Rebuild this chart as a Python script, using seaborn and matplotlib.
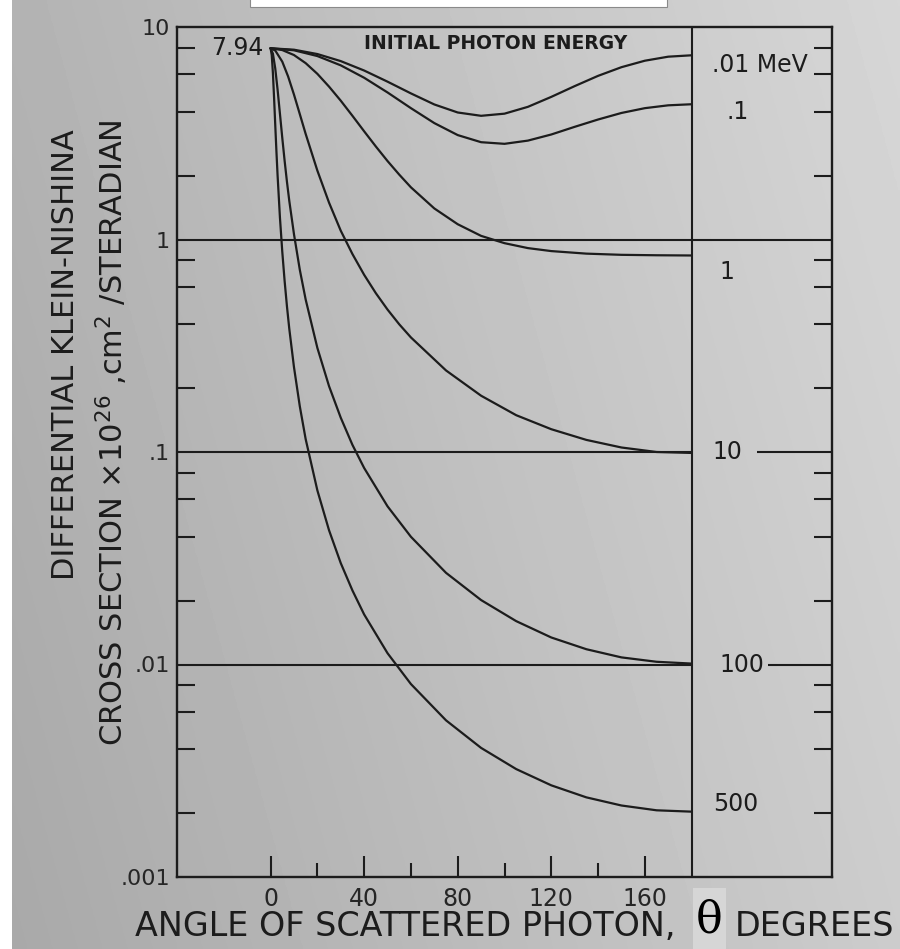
import numpy as np
import pandas as pd
import matplotlib
matplotlib.use("Agg")
import matplotlib.pyplot as plt
import seaborn as sns
from matplotlib.ticker import LogLocator, NullFormatter
from matplotlib.patches import Rectangle

# ---------------- data ----------------
energy_labels = [".01 MeV", ".1", "1", "10", "100", "500"]

angle_001 = [0, 10, 20, 30, 40, 50, 60, 70, 80, 90, 100, 110, 120, 130, 140, 150, 160, 170, 180]
sigma_001 = [7.94, 7.82, 7.46, 6.91, 6.24, 5.53, 4.87, 4.32, 3.96, 3.82, 3.91, 4.21, 4.69, 5.27,
             5.89, 6.47, 6.94, 7.25, 7.36]

angle_01 = [0, 10, 20, 30, 40, 50, 60, 70, 80, 90, 100, 110, 120, 130, 140, 150, 160, 170, 180]
sigma_01 = [7.94, 7.77, 7.30, 6.60, 5.77, 4.92, 4.15, 3.53, 3.10, 2.87, 2.82, 2.92, 3.12, 3.39,
            3.67, 3.94, 4.15, 4.28, 4.33]

angle_1 = [0, 5, 10, 15, 20, 25, 30, 35, 40, 45, 50, 55, 60, 70, 80, 90, 100, 110, 120, 135, 150, 165, 180]
sigma_1 = [7.94, 7.79, 7.38, 6.76, 6.02, 5.24, 4.50, 3.82, 3.23, 2.74, 2.34, 2.02, 1.76, 1.40, 1.18,
           1.04, 0.961, 0.911, 0.882, 0.858, 0.847, 0.843, 0.841]

angle_10 = [0, 2, 5, 7.5, 10, 12.5, 15, 20, 25, 30, 35, 40, 45, 50, 55, 60, 75, 90, 105, 120, 135,
            150, 165, 180]
sigma_10 = [7.94, 7.75, 6.87, 5.85, 4.81, 3.89, 3.14, 2.11, 1.49, 1.10, 0.854, 0.682, 0.559, 0.468,
            0.399, 0.346, 0.242, 0.184, 0.149, 0.128, 0.114, 0.105, 0.100, 0.099]

angle_100 = [0, 1, 2, 3, 4, 5, 6, 7, 8, 10, 12.5, 15, 20, 25, 30, 35, 40, 50, 60, 75, 90, 105, 120,
             135, 150, 165, 180]
sigma_100 = [7.94, 7.49, 6.38, 5.07, 3.91, 3.01, 2.35, 1.87, 1.52, 1.06, 0.720, 0.522, 0.309, 0.204,
             0.145, 0.108, 0.0841, 0.0555, 0.0399, 0.0270, 0.0201, 0.0160, 0.0134, 0.0118, 0.0108,
             0.0103, 0.0101]

angle_500 = [0, 0.5, 1, 1.5, 2, 2.5, 3, 4, 5, 6, 7, 8, 10, 12.5, 15, 20, 25, 30, 35, 40, 50, 60, 75,
             90, 105, 120, 135, 150, 165, 180]
sigma_500 = [7.94, 7.38, 6.07, 4.64, 3.46, 2.60, 2.00, 1.27, 0.877, 0.639, 0.485, 0.380, 0.251,
             0.164, 0.115, 0.066, 0.0428, 0.030, 0.0223, 0.0172, 0.0113, 0.00809, 0.00546, 0.00405,
             0.00322, 0.00270, 0.00237, 0.00217, 0.00206, 0.00203]

# curve-end label positions (angle, value) in the right-hand panel
label_pos = [(188.5, 6.6), (195.0, 4.0), (192.0, 0.70), (189.0, 0.1), (192.0, 0.01), (189.0, 0.0022)]

x_ticks = [0, 40, 80, 120, 160]
x_minor = [20, 60, 100, 140]
y_ticks = [0.001, 0.01, 0.1, 1, 10]
y_ticklabels = [".001", ".01", ".1", "1", "10"]

# ---------------- build table ----------------
curves = [(angle_001, sigma_001), (angle_01, sigma_01), (angle_1, sigma_1),
          (angle_10, sigma_10), (angle_100, sigma_100), (angle_500, sigma_500)]
frames = []
for lab, (a, s) in zip(energy_labels, curves):
    frames.append(pd.DataFrame({"angle": a, "sigma": s, "energy": lab}))
df = pd.concat(frames, ignore_index=True)

# ---------------- style ----------------
sns.set_style("ticks")
plt.rcParams["font.family"] = ["DejaVu Sans"]
ink = "#1c1c1c"

W, H = 900, 949
fig = plt.figure(figsize=(W / 100, H / 100), dpi=100)
fig.patch.set_facecolor("#c4c4c4")

# scanned-paper background (gradient)
bg = fig.add_axes([0, 0, 1, 1], zorder=-10)
gx = np.linspace(0.0, 1.0, 300)
gy = np.linspace(0.0, 1.0, 300)
GX, GY = np.meshgrid(gx, gy)
grad = 0.66 + 0.14 * GX + 0.04 * (1 - GY)
bg.imshow(grad, cmap="gray", vmin=0, vmax=1, aspect="auto", extent=[0, 1, 0, 1], origin="upper")
bg.set_axis_off()

# paper artefacts
fig.patches.append(Rectangle((0, 0), 12 / W, 1, transform=fig.transFigure, fc="white", ec="none", zorder=-5))
fig.patches.append(Rectangle((250 / W, 1 - 7 / H), 417 / W, 0.02, transform=fig.transFigure,
                             fc="white", ec="#8a8a8a", lw=0.8, zorder=-5))
fig.patches.append(Rectangle((693 / W, 0), 33 / W, (H - 888) / H, transform=fig.transFigure,
                             fc="#d6d6d6", ec="none", zorder=-5))

left, right, top, bottom = 177, 832, 27, 877
ax = fig.add_axes([left / W, 1 - bottom / H, (right - left) / W, (bottom - top) / H])
ax.set_facecolor((0, 0, 0, 0))

sns.lineplot(data=df, x="angle", y="sigma", hue="energy", palette=[ink] * len(energy_labels),
             estimator=None, sort=True, legend=False, linewidth=1.6, ax=ax)

ax.set_yscale("log")
ax.set_xlim(-40, 240)
ax.set_ylim(0.001, 10)

# reference lines and the 180-degree panel divider
lw = 1.5
ax.axhline(1, color=ink, lw=lw)
ax.hlines([0.1, 0.01], -40, 180, color=ink, lw=lw)
ax.axvline(180, color=ink, lw=lw)
ax.hlines(0.1, 208, 240, color=ink, lw=lw)
ax.hlines(0.01, 212.5, 240, color=ink, lw=lw)

for sp in ax.spines.values():
    sp.set_visible(True)
    sp.set_color(ink)
    sp.set_linewidth(1.7)

# ticks
ax.set_xticks(x_ticks)
ax.set_xticklabels([str(v) for v in x_ticks])
ax.set_xticks(x_minor, minor=True)
ax.tick_params(axis="x", which="major", direction="in", length=15, width=1.5, color=ink,
               labelsize=17, pad=7, bottom=True, top=False)
ax.tick_params(axis="x", which="minor", direction="in", length=10, width=1.5, color=ink,
               bottom=True, top=False)

ax.set_yticks(y_ticks)
ax.set_yticklabels(y_ticklabels)
ax.yaxis.set_minor_locator(LogLocator(base=10, subs=(2, 4, 6, 8), numticks=30))
ax.yaxis.set_minor_formatter(NullFormatter())
ax.tick_params(axis="y", which="major", length=0, labelsize=16, pad=5, left=True, right=False)
ax.tick_params(axis="y", which="minor", direction="in", length=13, width=1.5, color=ink,
               left=True, right=True)
ax.set_xlabel("")
ax.set_ylabel("")

# annotations
ax.text(-3, 7.94, "7.94", ha="right", va="center", fontsize=17, color=ink)
ax.text(96, 8.4, "INITIAL PHOTON ENERGY", ha="center", va="center", fontsize=13.5,
        fontweight="bold", color=ink)
for lab, (xa, ya) in zip(energy_labels, label_pos):
    ax.text(xa, ya, lab, ha="left", va="center", fontsize=17, color=ink)

# axis titles
fig.text(66 / W, 1 - 355 / H, "DIFFERENTIAL KLEIN-NISHINA", rotation=90, ha="center", va="center",
         fontsize=22, color=ink)
fig.text(112 / W, 1 - 433 / H, "CROSS SECTION \u00d710$^{26}$ ,cm$^{2}$ /STERADIAN", rotation=90,
         ha="center", va="center", fontsize=22, color=ink)
fig.text(135 / W, 1 - 927 / H, "ANGLE OF SCATTERED PHOTON,", ha="left", va="center", fontsize=24, color=ink)
fig.text(709 / W, 1 - 920 / H, "\u03b8", ha="center", va="center", fontsize=32,
         family=["DejaVu Serif"], color="black")
fig.text(735 / W, 1 - 927 / H, "DEGREES", ha="left", va="center", fontsize=24, color=ink)

fig.savefig("out.png", dpi=100, facecolor=fig.get_facecolor())
